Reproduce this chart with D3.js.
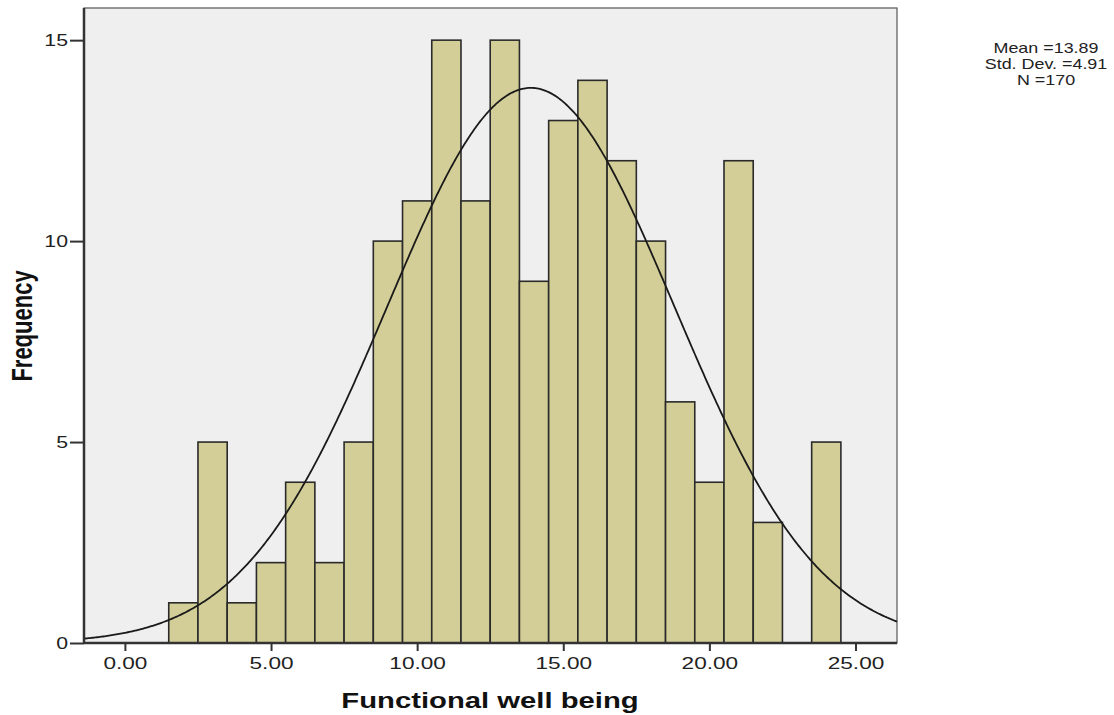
<!DOCTYPE html>
<html><head><meta charset="utf-8">
<script src="https://cdn.jsdelivr.net/npm/d3@7"></script>
<style>body{margin:0;background:#fff}svg{display:block;font-family:"Liberation Sans",Arial,sans-serif}</style>
</head><body>
<script>
const binCenters = [2,3,4,5,6,7,8,9,10,11,12,13,14,15,16,17,18,19,20,21,22,23,24];
const frequencies = [1,5,1,2,4,2,5,10,11,15,11,15,9,13,14,12,10,6,4,12,3,0,5];
const xTicks = [0,5,10,15,20,25];
const yTicks = [0,5,10,15];
const meanVal = 13.89, sdVal = 4.91, nVal = 170;
const statLines = ["Mean =13.89","Std. Dev. =4.91","N =170"];

const W=1114,H=715;
const L=84,R=897,T=8,B=643;
const SX=1.33;
const svg=d3.select("body").append("svg").attr("width",W).attr("height",H);
const x=d3.scaleLinear().domain([-1.4,26.42]).range([L,R]);
const y=d3.scaleLinear().domain([0,15.8]).range([B,T]);

svg.append("rect").attr("x",L).attr("y",T).attr("width",R-L).attr("height",B-T).attr("fill","#efefef").attr("stroke","#555").attr("stroke-width",1.2);

svg.append("g").selectAll("rect").data(binCenters.map((c,i)=>({c,f:frequencies[i]})).filter(d=>d.f>0))
 .join("rect").attr("x",d=>x(d.c-0.5)).attr("width",d=>x(d.c+0.5)-x(d.c-0.5)).attr("y",d=>y(d.f)).attr("height",d=>B-y(d.f))
 .attr("fill","#d3ce97").attr("stroke","#2a2a2a").attr("stroke-width",1.6);

const pdf=v=>nVal*1*Math.exp(-0.5*((v-meanVal)/sdVal)**2)/(sdVal*Math.sqrt(2*Math.PI));
const xs=d3.range(-1.4,26.42,0.05).concat([26.42]);
svg.append("path").datum(xs).attr("d",d3.line().x(v=>x(v)).y(v=>y(pdf(v)))).attr("fill","none").attr("stroke","#1a1a1a").attr("stroke-width",1.8);

svg.append("line").attr("x1",L).attr("x2",L).attr("y1",T).attr("y2",B).attr("stroke","#333").attr("stroke-width",2.5);
svg.append("line").attr("x1",L).attr("x2",R).attr("y1",B).attr("y2",B).attr("stroke","#333").attr("stroke-width",2.5);

const xa=svg.append("g").attr("transform",`translate(0,${B})`).call(d3.axisBottom(x).tickValues(xTicks).tickFormat(d3.format(".2f")).tickSize(8).tickSizeOuter(0).tickPadding(6));
xa.select(".domain").remove();
xa.selectAll("line").attr("stroke","#333").attr("stroke-width",2);
xa.selectAll("text").attr("font-size",17).attr("fill","#222").attr("font-family","Liberation Sans, Arial, sans-serif").attr("transform",`scale(${SX},1)`);

const ya=svg.append("g").attr("transform",`translate(${L},0)`).call(d3.axisLeft(y).tickValues(yTicks).tickSize(14).tickSizeOuter(0));
ya.select(".domain").remove();
ya.selectAll("line").attr("stroke","#333").attr("stroke-width",2);
ya.selectAll("text").attr("font-size",16).attr("fill","#222").attr("font-family","Liberation Sans, Arial, sans-serif").attr("x",-16/SX).attr("transform",`scale(${SX},1)`);

svg.append("text").attr("transform",`translate(490,708) scale(${SX},1)`).attr("text-anchor","middle").attr("font-size",22).attr("font-weight","bold").attr("fill","#111").text("Functional well being");
svg.append("text").attr("transform",`translate(32,326) scale(${SX},1) rotate(-90)`).attr("text-anchor","middle").attr("font-size",22).attr("font-weight","bold").attr("fill","#111").text("Frequency");

svg.append("g").selectAll("text").data(statLines).join("text").attr("transform",(d,i)=>`translate(1046,${53+i*16}) scale(1.28,1)`).attr("text-anchor","middle").attr("font-size",14).attr("fill","#222").text(d=>d);
</script>
</body></html>
